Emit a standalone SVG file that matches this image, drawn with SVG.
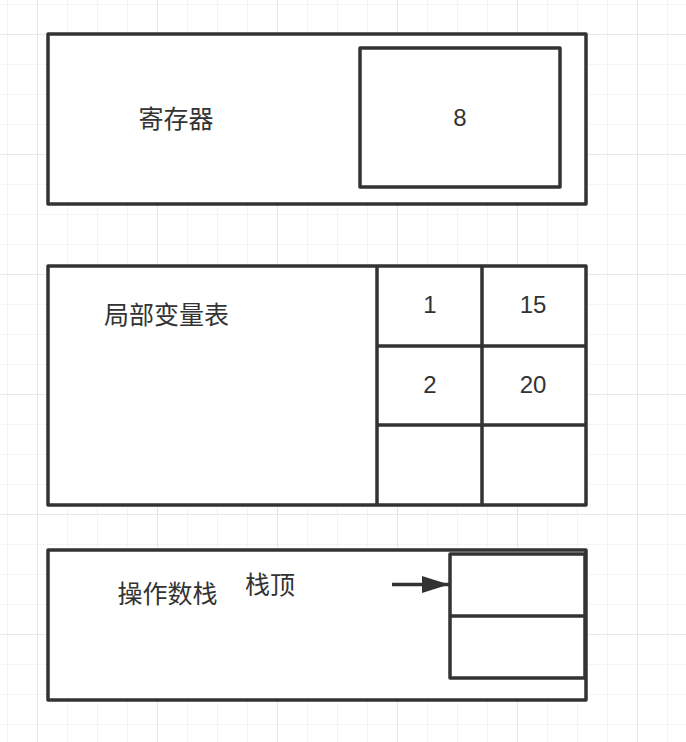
<svg xmlns="http://www.w3.org/2000/svg" width="686" height="742" viewBox="0 0 686 742">
<defs>
<pattern id="minor" x="7" y="4" width="30" height="30" patternUnits="userSpaceOnUse">
<path d="M0 0V30M0 0H30" fill="none" stroke="#ececec" stroke-width="1.2"/>
</pattern>
<pattern id="major" x="37" y="34" width="120" height="120" patternUnits="userSpaceOnUse">
<path d="M0 0V120M0 0H120" fill="none" stroke="#dcdcdc" stroke-width="1.2"/>
</pattern>
<marker id="arrow" viewBox="0 0 27 17" refX="27" refY="8.5" markerWidth="27" markerHeight="17" markerUnits="userSpaceOnUse" orient="auto">
<path d="M0 0L27 8.5L0 17Z" fill="#333"/>
</marker>
</defs>
<style>
.box{fill:#fff;stroke:#333;stroke-width:3.5;stroke-linejoin:round}
.line{fill:none;stroke:#333;stroke-width:3.5}
.cjk{font-family:"Liberation Sans","Noto Sans CJK SC",sans-serif;font-size:25px;fill:#333;text-anchor:middle}
.num{font-family:"Liberation Sans","Noto Sans CJK SC",sans-serif;font-size:24px;fill:#333;text-anchor:middle}
</style>
<rect width="686" height="742" fill="#fff"/>
<rect width="686" height="742" fill="url(#minor)"/>
<rect width="686" height="742" fill="url(#major)"/>

<g id="register">
<rect class="box" x="48" y="34" width="538" height="170"/>
<text class="cjk" x="176" y="127.5">寄存器</text>
</g>
<g id="register-value">
<rect class="box" x="360" y="48" width="200" height="139"/>
<text class="num" x="460" y="125.6">8</text>
</g>

<g id="local-vars">
<rect class="box" x="48" y="266" width="538" height="239"/>
<text class="cjk" x="166.5" y="324">局部变量表</text>
<path class="line" d="M377 266V505M482 266V505M377 346H586M377 425H586"/>
<text class="num" x="430" y="313">1</text>
<text class="num" x="533" y="313">15</text>
<text class="num" x="430" y="393">2</text>
<text class="num" x="533" y="393">20</text>
</g>

<g id="operand-stack">
<rect class="box" x="48" y="550" width="538" height="150"/>
<text class="cjk" x="167.5" y="603">操作数栈</text>
</g>
<g id="stack-slots">
<rect class="box" x="450" y="554" width="135" height="124"/>
<path class="line" d="M450 616H585"/>
</g>
<g id="stack-top-label">
<text class="cjk" x="270" y="593.5">栈顶</text>
</g>

<g id="connectors">
<path class="line" d="M392 584.5H449" marker-end="url(#arrow)"/>
</g>
</svg>
